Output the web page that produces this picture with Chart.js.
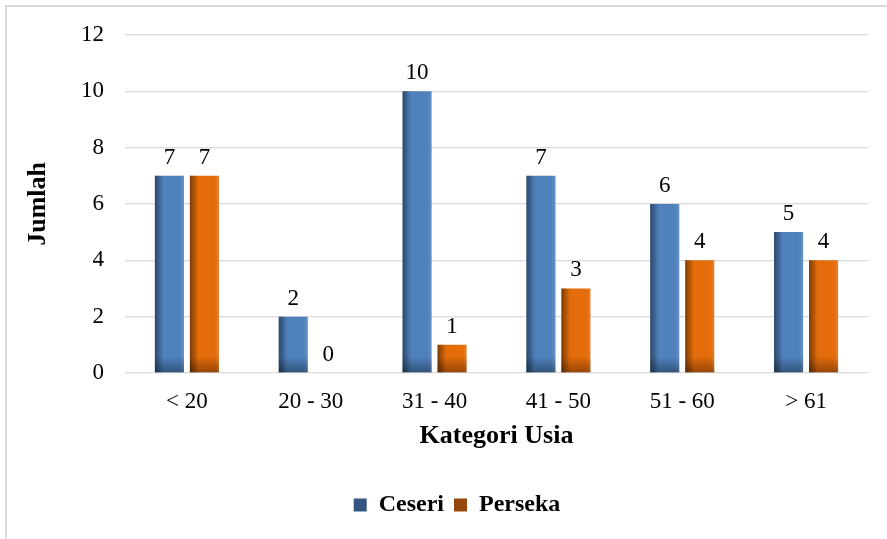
<!DOCTYPE html>
<html>
<head>
<meta charset="utf-8">
<script src="https://cdn.jsdelivr.net/npm/chart.js@4.4.1/dist/chart.umd.min.js"></script>
<style>
  body { margin: 0; background: #fff; }
  #frame { position: absolute; left: 5px; top: 5px; width: 900px; height: 600px;
           border-left: 2px solid #d9d9d9; border-top: 2px solid #d9d9d9; }
  #wrap { position: absolute; left: 0; top: 0; width: 887px; height: 539px; }
</style>
</head>
<body>
<div id="frame"></div>
<div id="wrap"><canvas id="chart"></canvas></div>
<script>
var categories = ["< 20", "20 - 30", "31 - 40", "41 - 50", "51 - 60", "> 61"]
var ceseri = [7, 2, 10, 7, 6, 5]
var perseka = [7, 0, 1, 3, 4, 4]
var yTicks = [0, 2, 4, 6, 8, 10, 12]

var serif = "'Liberation Serif', 'Times New Roman', serif"
var blue = "rgb(79, 129, 189)"
var orange = "rgb(228, 108, 10)"
var legendColors = ["rgb(52, 84, 128)", "rgb(150, 72, 10)"]

// shading over the bars: darker left edge and bottom, like the office 3d-ish fill
const barShade = {
    id: 'barShade',
    afterDatasetsDraw(chart) {
        const ctx = chart.ctx
        chart.data.datasets.forEach((ds, i) => {
            chart.getDatasetMeta(i).data.forEach(bar => {
                const left = bar.x - bar.width / 2
                const top = bar.y
                const h = bar.base - bar.y
                if (h <= 0) return
                let g = ctx.createLinearGradient(left, 0, left + bar.width, 0)
                g.addColorStop(0, "rgba(0,0,0,0.45)")
                g.addColorStop(0.3, "rgba(0,0,0,0.0)")
                g.addColorStop(0.85, "rgba(255,255,255,0.0)")
                g.addColorStop(1, "rgba(255,255,255,0.12)")
                ctx.fillStyle = g
                ctx.fillRect(left, top, bar.width, h)
                const sh = Math.min(16, h)
                let v = ctx.createLinearGradient(0, bar.base - sh, 0, bar.base)
                v.addColorStop(0, "rgba(0,0,0,0)")
                v.addColorStop(1, "rgba(0,0,0,0.35)")
                ctx.fillStyle = v
                ctx.fillRect(left, bar.base - sh, bar.width, sh)
            })
        })
    }
}

const valueLabels = {
    id: 'valueLabels',
    afterDatasetsDraw(chart) {
        const ctx = chart.ctx
        ctx.save()
        ctx.font = "23px " + serif
        ctx.fillStyle = "#000"
        ctx.textAlign = "center"
        ctx.textBaseline = "alphabetic"
        chart.data.datasets.forEach((ds, i) => {
            chart.getDatasetMeta(i).data.forEach((bar, j) => {
                ctx.fillText(ds.data[j], bar.x, bar.y - 12)
            })
        })
        ctx.restore()
    }
}

const data = {
    labels: categories,
    datasets: [{
        label: "Ceseri",
        data: ceseri,
        backgroundColor: blue,
        categoryPercentage: 0.565,
        barPercentage: 0.83,
    }, {
        label: "Perseka",
        data: perseka,
        backgroundColor: orange,
        categoryPercentage: 0.565,
        barPercentage: 0.83,
    }]
}

const options = {
    animation: false,
    responsive: true,
    maintainAspectRatio: false,
    layout: {
        padding: { left: 46, right: 19, top: 29, bottom: 12 }
    },
    scales: {
        x: {
            grid: { display: false, drawTicks: false },
            border: { display: false },
            ticks: { color: "#000", font: { family: serif, size: 23 }, padding: 15 },
            title: {
                display: true, text: "Kategori Usia", color: "#000",
                font: { family: serif, size: 26, weight: "bold" },
                padding: { top: 0, bottom: 31 }
            },
            afterFit: s => { s.height = 110 }
        },
        y: {
            min: 0,
            max: 12,
            afterBuildTicks: s => { s.ticks = yTicks.map(v => ({ value: v })) },
            grid: { color: "#d9d9d9", lineWidth: 1.3, drawTicks: false },
            border: { display: false },
            ticks: { color: "#000", font: { family: serif, size: 23 }, padding: 21 },
            title: {
                display: true, text: "Jumlah", color: "#000",
                font: { family: serif, size: 26, weight: "bold" },
                padding: { top: -23, bottom: 0 }
            },
            afterFit: s => { s.width = 79 }
        }
    },
    plugins: {
        legend: {
            position: "bottom",
            labels: {
                color: "#000",
                font: { family: serif, size: 24, weight: "bold" },
                boxWidth: 13,
                boxHeight: 13,
                padding: 10,
                generateLabels: chart => chart.data.datasets.map((ds, i) => ({
                    text: ds.label,
                    fillStyle: legendColors[i],
                    strokeStyle: legendColors[i],
                    lineWidth: 0,
                    datasetIndex: i,
                    fontColor: "#000",
                }))
            }
        },
        tooltip: { enabled: false }
    }
}

const config = {
    type: 'bar',
    data: data,
    options: options,
    plugins: [barShade, valueLabels],
}

const chart = new Chart(
document.getElementById('chart'),
config
)
</script>
</body>
</html>
